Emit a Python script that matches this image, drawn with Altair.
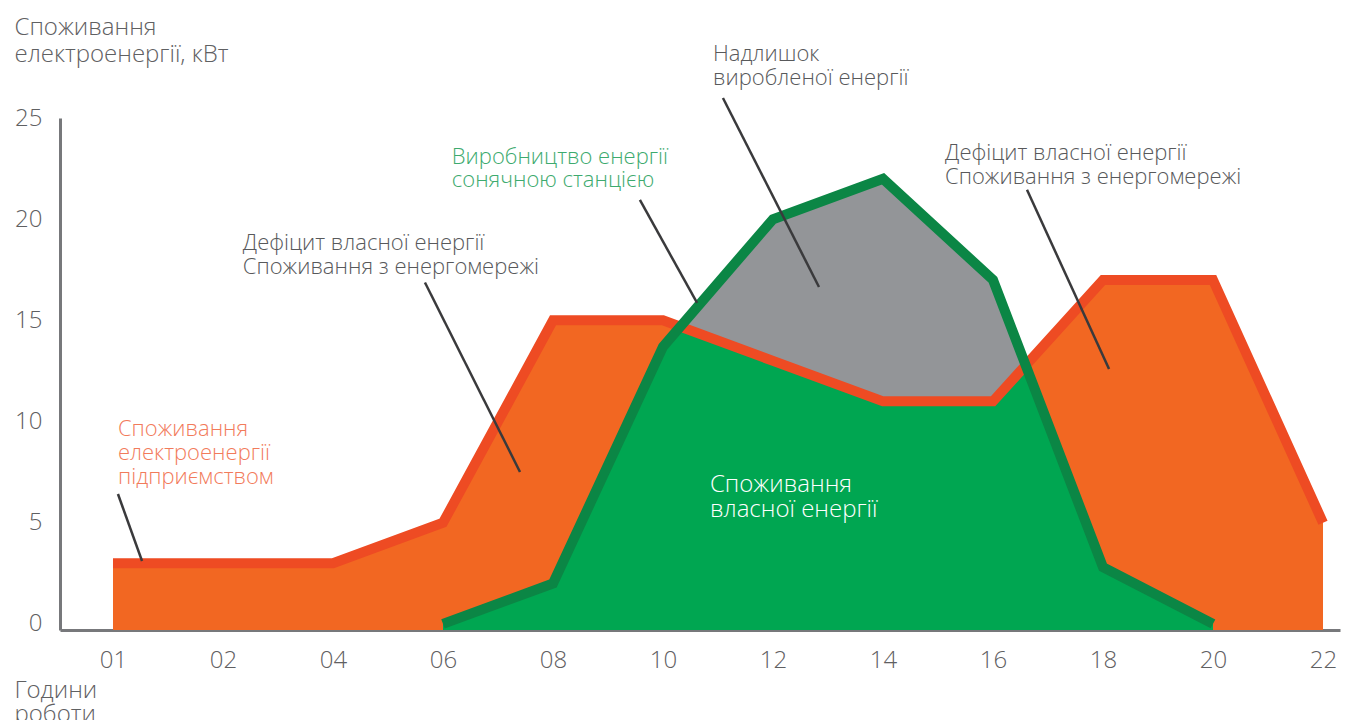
import altair as alt
import pandas as pd

# ---------------- data ----------------
hours = ["01", "02", "04", "06", "08", "10", "12", "14", "16", "18", "20", "22"]
consumption = [3, 3, 3, 5, 15, 15, 13, 11, 11, 17, 17, 5]          # enterprise consumption, kW
production = [None, None, None, 0, 2, 13.7, 20, 22, 17, 2.8, 0, None]  # solar production, kW
y_ticks = [0, 5, 10, 15, 20, 25]

# annotation texts (lines)
ann_lines = [
    ("Споживання", "orange"), ("електроенергії", "orange"), ("підприємством", "orange"),
    ("Дефіцит власної енергії", "dark"), ("Споживання з енергомережі", "dark"),
    ("Виробництво енергії", "green"), ("сонячною станцією", "green"),
    ("Надлишок", "gray"), ("виробленої енергії", "gray"),
    ("Дефіцит власної енергії", "dark"), ("Споживання з енергомережі", "dark"),
    ("Споживання", "white"), ("власної енергії", "white"),
]
# anchor positions of the annotation lines (data units: hour index, kW)
ann_x = [0.045, 0.045, 0.045, 1.18, 1.18, 3.08, 3.08, 5.455, 5.455, 7.564, 7.564, 5.427, 5.427]
ann_y = [9.29, 8.10, 6.92, 18.48, 17.27, 22.73, 21.59, 27.82, 26.63, 22.93, 21.74, 6.52, 5.27]

# leader lines (data units)
lead_x = [0.045, 2.836, 4.79, 5.545, 8.309]
lead_y = [6.42, 16.87, 20.95, 25.99, 21.45]
lead_x2 = [0.264, 3.70, 5.31, 6.418, 9.055]
lead_y2 = [3.11, 7.51, 15.86, 16.65, 12.60]

# ---------------- styles ----------------
ORANGE_FILL = "#F26722"
ORANGE_LINE = "#EE4B23"
GREEN_FILL = "#00A651"
GREEN_LINE = "#0B8645"
GRAY_FILL = "#939598"
AXIS_GRAY = "#77787B"
TEXT_GRAY = "#5F6062"
text_colors = {"orange": "#F27B5B", "dark": "#58595B", "green": "#3DAA6E",
               "gray": "#58595B", "white": "#FFFFFF"}
text_sizes = {"orange": 22, "dark": 22, "green": 22, "gray": 22, "white": 24}
FONT = "Open Sans"

Y_MIN = -0.3
X_DOMAIN = [-0.4818, 11.1545]
Y_DOMAIN = [Y_MIN, 25]

# ---------------- tables ----------------
idx = list(range(len(hours)))
cons_df = pd.DataFrame({"i": idx, "hour": hours, "v": consumption, "base": Y_MIN})
prod_df = pd.DataFrame({"i": idx, "hour": hours, "v": production, "base": Y_MIN}).dropna()

# own consumption = min(consumption, production) incl. crossing points of the two lines
own = []
for k in range(len(idx)):
    if production[k] is None:
        continue
    c0, p0 = consumption[k], production[k]
    own.append((k, min(c0, p0)))
    if k + 1 < len(idx) and production[k + 1] is not None:
        c1, p1 = consumption[k + 1], production[k + 1]
        d0, d1 = c0 - p0, c1 - p1
        if d0 * d1 < 0:
            t = d0 / (d0 - d1)
            own.append((k + t, c0 + t * (c1 - c0)))
own_df = pd.DataFrame(own, columns=["i", "v"])
own_df["base"] = Y_MIN

ann_df = pd.DataFrame({
    "text": [t for t, _ in ann_lines],
    "color": [text_colors[g] for _, g in ann_lines],
    "size": [text_sizes[g] for _, g in ann_lines],
    "i": ann_x, "v": ann_y,
})
lead_df = pd.DataFrame({"i": lead_x, "v": lead_y, "i2": lead_x2, "v2": lead_y2})

label_expr = "[" + ",".join("'%s'" % h for h in hours) + "][datum.value]"

xscale = alt.Scale(domain=X_DOMAIN, nice=False, zero=False)
yscale = alt.Scale(domain=Y_DOMAIN, nice=False, zero=False)

x_axis = alt.Axis(values=idx, labelExpr=label_expr, grid=False, ticks=False, tickSize=0,
                  domainColor=AXIS_GRAY, domainWidth=3, labelFont=FONT, labelFontWeight=300,
                  labelFontSize=24, labelColor=TEXT_GRAY, labelPadding=18,
                  title=["Години", "роботи"], titleFont=FONT, titleFontWeight=300,
                  titleFontSize=24, titleColor=TEXT_GRAY, titleAlign="left",
                  titleBaseline="alphabetic", titleAngle=0, titleX=-46, titleY=67,
                  titleLineHeight=24)
y_axis = alt.Axis(values=y_ticks, grid=False, ticks=False, tickSize=0,
                  domainColor=AXIS_GRAY, domainWidth=3, labelFont=FONT, labelFontWeight=300,
                  labelFontSize=24, labelColor=TEXT_GRAY, labelPadding=18,
                  labelBaseline="middle",
                  title=["Споживання", "електроенергії, кВт"], titleFont=FONT,
                  titleFontWeight=300, titleFontSize=24, titleColor=TEXT_GRAY,
                  titleAlign="left", titleBaseline="alphabetic", titleAngle=0,
                  titleX=-46, titleY=-84, titleLineHeight=27)

X = alt.X("i:Q", scale=xscale, axis=x_axis)
Y = alt.Y("v:Q", scale=yscale, axis=y_axis)

orange_area = alt.Chart(cons_df).mark_area(color=ORANGE_FILL).encode(x=X, y=Y, y2="base:Q")
gray_area = alt.Chart(prod_df).mark_area(color=GRAY_FILL).encode(x=X, y=Y, y2="base:Q")
green_area = alt.Chart(own_df).mark_area(color=GREEN_FILL).encode(x=X, y=Y, y2="base:Q")
orange_line = alt.Chart(cons_df).mark_line(color=ORANGE_LINE, strokeWidth=10,
                                           strokeJoin="miter", strokeCap="butt").encode(x=X, y=Y)
green_line = alt.Chart(prod_df).mark_line(color=GREEN_LINE, strokeWidth=10,
                                          strokeJoin="miter", strokeCap="butt").encode(x=X, y=Y)
leaders = alt.Chart(lead_df).mark_rule(color="#3A3A3C", strokeWidth=2.5).encode(
    x=X, y=Y, x2="i2:Q", y2="v2:Q",
)
texts = alt.Chart(ann_df).mark_text(align="left", baseline="alphabetic", font=FONT,
                                    fontWeight=300).encode(
    x=X, y=Y,
    text="text:N",
    color=alt.Color("color:N", scale=None),
    size=alt.Size("size:Q", scale=None),
)

chart = alt.layer(orange_area, gray_area, green_area, orange_line, green_line, leaders, texts).properties(
    width=1280,
    height=512,
    autosize=alt.AutoSizeParams(type="none"),
    padding={"left": 52, "top": 110, "right": 20, "bottom": 90},
    background="white",
).configure_view(stroke=None)

chart.save("out.html", embed_options={"renderer": "svg", "actions": False})
